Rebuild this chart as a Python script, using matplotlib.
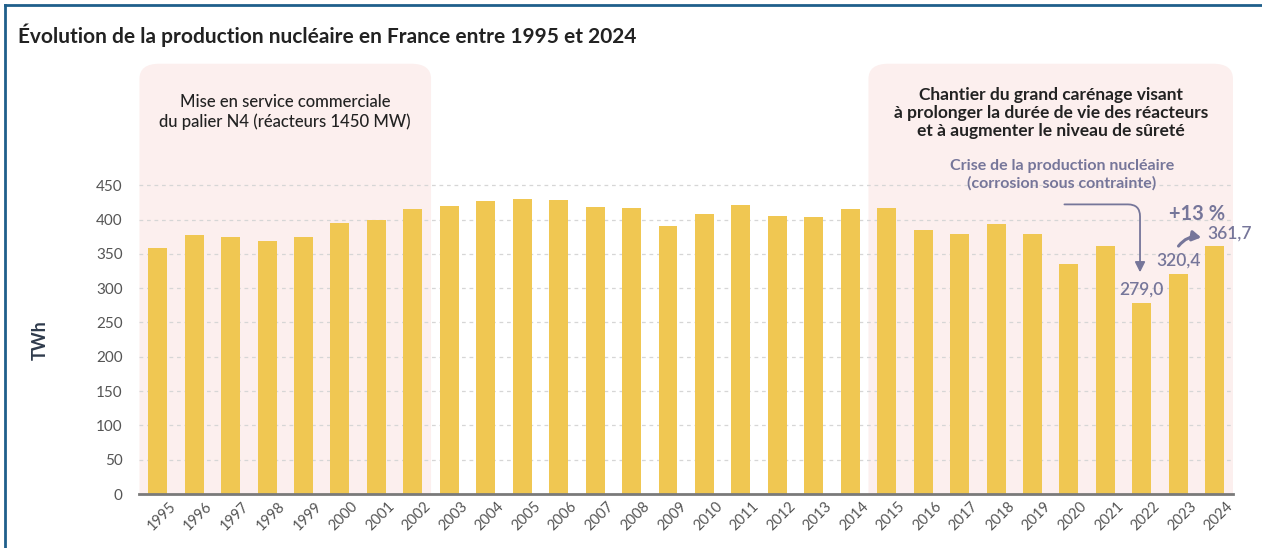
import numpy as np
import matplotlib
matplotlib.use("Agg")
import matplotlib.pyplot as plt
import matplotlib.transforms as mtransforms
from matplotlib.patches import FancyBboxPatch
from matplotlib.lines import Line2D

# Données (TWh)
annees = list(range(1995, 2025))
production = [358, 377, 375, 368, 374, 395, 400, 415, 420, 427, 430, 428, 418, 417,
              390, 408, 421, 405, 404, 416, 417, 384, 379, 393, 379, 335, 361,
              279.0, 320.4, 361.7]
etiquettes = {2022: "279,0", 2023: "320,4", 2024: "361,7"}
y_ticks = list(range(0, 451, 50))

# Périodes surlignées (première année, dernière année)
periode_n4 = (1995, 2002)
periode_carenage = (2015, 2024)

plt.rcParams['font.family'] = ['Lato', 'DejaVu Sans']

couleur_barre = '#f0c752'
couleur_rose = '#fcefee'
couleur_annot = '#76769a'

fig = plt.figure(figsize=(12.62, 5.48), dpi=100)
ax = fig.add_axes([0.1105, 0.0985, 0.8665, 0.789])

x = np.arange(len(annees))
ax.bar(x, production, width=0.52, color=couleur_barre, zorder=3)

ax.set_xlim(-0.5, len(annees) - 0.5)
ax.set_ylim(0, 630)

# --- Zones roses avec coins arrondis en haut ---
def zone(debut, fin):
    i0 = annees.index(debut) - 0.5
    i1 = annees.index(fin) + 0.5
    p = FancyBboxPatch((i0, -100), i1 - i0, 727,
                       boxstyle="round,pad=0,rounding_size=0.55",
                       mutation_aspect=40, facecolor=couleur_rose,
                       edgecolor='none', zorder=0)
    ax.add_patch(p)
    return (i0 + i1) / 2

cx_n4 = zone(*periode_n4)
cx_car = zone(*periode_carenage)

# grille et axes
ax.set_yticks(y_ticks)
for v in y_ticks[1:]:
    ax.axhline(v, color='#d6d6d6', lw=0.9, ls=(0, (3, 3)), zorder=1)
for s in ['top', 'right', 'left']:
    ax.spines[s].set_visible(False)
ax.spines['bottom'].set_color('#7a7a7a')
ax.spines['bottom'].set_linewidth(2)
ax.spines['bottom'].set_zorder(4)
ax.tick_params(axis='y', length=0, labelsize=11, labelcolor='#555555', pad=12)
ax.tick_params(axis='x', length=0, labelsize=10.5, labelcolor='#555555', pad=4)
ax.set_xticks(x)
ax.set_xticklabels([str(a) for a in annees], rotation=45, ha='right',
                   rotation_mode='anchor')
decal = mtransforms.ScaledTranslation(8 / 72, 0, fig.dpi_scale_trans)
for lab in ax.get_xticklabels():
    lab.set_transform(lab.get_transform() + decal)

# --- Textes ---
fig.text(0.0143, 0.935, "Évolution de la production nucléaire en France entre 1995 et 2024",
         fontsize=15, fontweight='bold', color='#222222', va='center', ha='left')
fig.text(0.032, 0.38, "TWh", rotation=90, fontsize=13, fontweight='bold',
         color='#2f3b4c', va='center', ha='center')

ax.text(cx_n4, 556, "Mise en service commerciale\ndu palier N4 (réacteurs 1450 MW)",
        ha='center', va='center', fontsize=12, fontweight='medium', color='#222222',
        linespacing=1.25, zorder=5)
ax.text(cx_car, 555, "Chantier du grand carénage visant\nà prolonger la durée de vie des réacteurs\n"
        "et à augmenter le niveau de sûreté",
        ha='center', va='center', fontsize=12.5, fontweight='bold', color='#222222',
        linespacing=1.15, zorder=5)
ax.text(cx_car + 0.3, 465, "Crise de la production nucléaire\n(corrosion sous contrainte)",
        ha='center', va='center', fontsize=11.5, fontweight='bold', color=couleur_annot,
        linespacing=1.25, zorder=5)

i22 = annees.index(2022)
i23 = annees.index(2023)
i24 = annees.index(2024)
ax.annotate("", xy=(i22 - 0.05, production[i22] + 40), xytext=(cx_car + 0.3, 422),
            arrowprops=dict(arrowstyle='-|>,head_length=0.6,head_width=0.3',
                            color=couleur_annot, lw=1.3,
                            connectionstyle="angle,angleA=0,angleB=90,rad=12"),
            zorder=6)

ax.text(i22, production[i22] + 19, etiquettes[2022], ha='center', va='center',
        fontsize=12.5, fontweight='semibold', color=couleur_annot, zorder=6)
ax.text(i23, production[i23] + 20, etiquettes[2023], ha='center', va='center',
        fontsize=12.5, fontweight='semibold', color=couleur_annot, zorder=6)
ax.text(i24 + 0.42, production[i24] + 18, etiquettes[2024], ha='center', va='center',
        fontsize=12.5, fontweight='semibold', color=couleur_annot, zorder=6)
ax.text(i23 + 0.52, 408, "+13 %", ha='center', va='center',
        fontsize=14.5, fontweight='bold', color=couleur_annot, zorder=6)
ax.annotate("", xy=(i23 + 0.7, 373), xytext=(i23 - 0.04, 358),
            arrowprops=dict(arrowstyle='-|>,head_length=0.5,head_width=0.3',
                            color=couleur_annot, lw=2.2,
                            connectionstyle="arc3,rad=-0.35"),
            zorder=6)

# cadre bleu
fig.add_artist(Line2D([0.004, 0.004], [0, 0.99], transform=fig.transFigure,
                      color='#1f5f8b', lw=2))
fig.add_artist(Line2D([0.004, 1], [0.99, 0.99], transform=fig.transFigure,
                      color='#1f5f8b', lw=2))

fig.savefig("out.png", dpi=100)
